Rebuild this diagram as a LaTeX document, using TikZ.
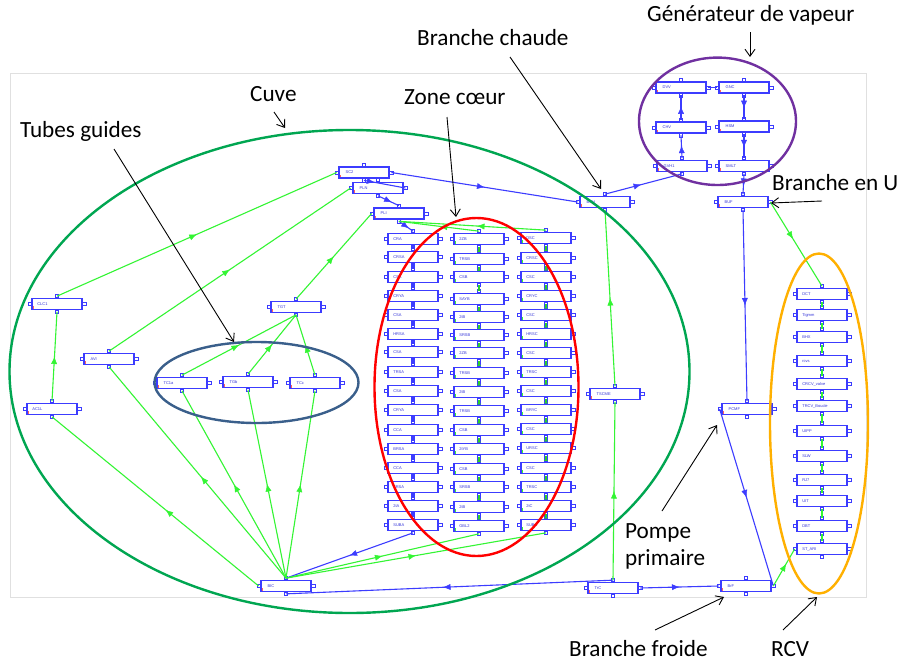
\documentclass[tikz,border=0pt]{standalone}
\usepackage{fontspec}
\setmainfont{Carlito}
\newfontfamily\tinyfont{Liberation Sans}
\usetikzlibrary{arrows.meta,decorations.markings,calc}
\definecolor{bl}{HTML}{3C3CFF}
\definecolor{gr}{HTML}{33F533}
\definecolor{cuve}{HTML}{00A651}
\definecolor{tubes}{HTML}{3A5F8B}
\definecolor{gvp}{HTML}{7030A0}
\definecolor{rcv}{HTML}{FFB000}
\definecolor{mk}{HTML}{FF6060}
\tikzset{
  blockbox/.style={draw=bl,line width=1.1pt,fill=white,minimum width=50pt,minimum height=11pt,inner sep=0pt,
    text width=42pt,align=left,text=bl!85!black,font=\tinyfont\fontsize{4}{4.5}\selectfont},
  portbox/.style={draw=bl,line width=0.8pt,fill=white,minimum size=3.2pt,inner sep=0pt,outer sep=0pt},
  flowmark/.style={postaction={decorate},decoration={markings,mark=at position #1 with {\arrow[line width=0.4pt]{Latex[length=7.5pt,width=6pt]}}}},
  flowb/.style={draw=bl,line width=1.1pt,flowmark=#1},
  flowg/.style={draw=gr,line width=1.1pt,flowmark=#1},
  chainb/.style={draw=bl,line width=1.1pt,postaction={decorate},decoration={markings,mark=at position .55 with {\arrow{Latex[length=3pt,width=4pt]}}}},
  chaing/.style={draw=gr!85!black,line width=1.1pt,postaction={decorate},decoration={markings,mark=at position .55 with {\arrow{Latex[length=3pt,width=4pt]}}}},
  callout/.style={draw=black,line width=0.9pt,-{Straight Barb[length=7pt,width=10pt,line width=0.9pt]}},
  lab/.style={font=\fontsize{23.2}{27}\selectfont,text=black,inner sep=0pt,align=left},
  zone/.style={draw=#1,line width=2.4pt},
  panel/.style={draw=black!12,line width=0.8pt,fill=white}
}
% [mark colour]{name}{x}{y}{text}
\newcommand{\blk}[5][white]{%
  \node[blockbox] (#2) at (#3,#4) {#5};
  \fill[#1] ([xshift=1.2pt,yshift=1.2pt]#2.south west) rectangle +(1.6,-2.6);
  \node[portbox,xshift=-1.8pt] (#2-l) at (#2.west) {};
  \node[portbox,xshift=1.8pt] (#2-r) at (#2.east) {};
  \node[portbox,yshift=1.8pt] (#2-t) at (#2.north) {};
  \node[portbox,yshift=-1.8pt] (#2-b) at (#2.south) {};
}
\begin{document}
\begin{tikzpicture}[x=1pt,y=-1pt]
\useasboundingbox (0,0) rectangle (898,664);
\fill[white] (0,0) rectangle (898,664);
\path[panel] (10,73) rectangle (866,597);

% blocks
\blk[mk]{sc}{364}{172.5}{\ \ SC2}
\blk[mk]{ps}{378}{188}{\ \ PLN}
\blk[mk]{pi}{399}{213.5}{\ \ PLI}
\blk[mk]{bc}{605}{202}{\ \ BCH}
\blk[mk]{ga}{681}{87.5}{\ \ DVV}
\blk[mk]{gb}{744}{87.5}{\ \ GNC}
\blk[mk]{gc}{681}{127.5}{\ \ CHV}
\blk[mk]{gd}{744}{126.5}{\ \ HSM}
\blk[mk]{ge}{682}{166}{\ \ GVH1}
\blk[mk]{gf}{744}{166}{\ \ SMLT}
\blk[mk]{bu}{743}{202}{\ \ BUF}
\blk[mk]{clc}{57}{304}{\ CLC1}
\blk[mk]{ac}{52}{409}{\ AC1L}
\blk[mk]{av}{109}{359}{\ \ AVI}
\blk[mk]{tp}{296}{307}{\ \ TGT}
\blk[mk]{ta}{182}{383}{\ \ TC1a}
\blk[mk]{tb}{248}{382}{\ \ TGb}
\blk[mk]{tc}{315}{383}{\ \ TCc}
\blk[mk]{bot}{286}{586}{\ \ BIC}
\blk[mk]{ts}{615}{394}{\ \ TSCME}
\blk[mk]{pc}{747}{409}{\ \ PCMF}
\blk[mk]{tf}{613}{588}{\ \ TrC}
\blk[mk]{bf}{746}{586}{\ \ BrF}

% core columns
\foreach \i/\y/\t in {1/239/CRA,2/257/CRSA,3/277/CSA,4/296/CRYA,5/315/CSA,6/334/HRSA,7/352/CSA,8/372/TRSA,9/391/CSA,10/410/CRYA,11/430/CCA,12/449/BRSA,13/468/CCA,14/487/TRSA,15/506/2tA,16/525/SUBA}
  {\blk{ca\i}{413}{\y}{\ \t}}
\foreach \i/\y/\t in {1/239/2ZB,2/259/TRSB,3/277/CSB,4/299/SAYB,5/317/2tB,6/335/SRSB,7/353/2ZB,8/373/TRSB,9/392/2tB,10/411/TRSB,11/430/CSB,12/449/2tYB,13/469/CSB,14/487/SRSB,15/507/2tB,16/526/GBL2}
  {\blk[gr]{cb\i}{479}{\y}{\ \t}}
\foreach \i/\y/\t in {1/238/DSC,2/258/CRSC,3/277/CSC,4/296/CRYC,5/315/CSC,6/334/HRSC,7/353/CSC,8/372/TRSC,9/391/CSC,10/410/BRYC,11/429/CSC,12/448/URSC,13/468/CSC,14/487/TRSC,15/506/2tC,16/525/SUBC}
  {\blk[gr]{cc\i}{546}{\y}{\ \t}}
% RCV column
\foreach \i/\y/\t in {1/294/DCT,2/315/Tigmm,3/337/BHX,4/361/rcvs,5/384/CRCV\_valve,6/406/TRCV\_Boucle,7/431/UIPP,8/456/SLW,9/480/RJ7,10/501/UIT,11/526/DBT,12/549/ST\_ARI}
  {\blk{r\i}{822}{\y}{\ \t}}

% chains
\foreach \i [evaluate=\i as \j using int(\i+1)] in {1,...,15} {
  \draw[chainb] (ca\i-b.center) -- (ca\j-t.center);
  \draw[chaing] (cb\j-t.center) -- (cb\i-b.center);
  \draw[chaing] (cc\j-t.center) -- (cc\i-b.center);
}
\foreach \i [evaluate=\i as \j using int(\i+1)] in {1,...,11}
  \draw[draw=gr,line width=1.2pt] (r\j-t.center) -- (r\i-b.center);

% blue connectors
\draw[flowb=.5] (sc-r.center) -- (bc-l.center);
\draw[flowb=.25] (sc-b.center) -- (ps-r.center);
\draw[flowb=.65] (ps-b.center) -- (pi-t.center);
\draw[flowb=.7] (pi-b.center) -- (ca1-t.center);
\draw[flowb=.47] (bc-t.center) -- (ge-b.center);
\draw[flowb=.55] (ge-t.center) -- (gc-b.center);
\draw[flowb=.55] (gc-t.center) -- (ga-b.center);
\draw[draw=bl,line width=1.1pt] (ga-r.center) -- (gb-l.center);
\draw[flowb=.55] (gb-b.center) -- (gd-t.center);
\draw[flowb=.55] (gd-b.center) -- (gf-t.center);
\draw[flowb=.6] (gf-b.center) -- (bu-t.center);
\draw[flowb=.5] (bu-b.center) -- (pc-t.center);
\draw[flowb=.5] (pc-l.center) -- (bf-r.center);
\draw[flowb=.5] (tf-r.center) -- (bf-l.center);
\draw[flowb=.52] (tf-t.center) -- (bot-b.center);
\draw[flowb=.5] (ca16-b.center) -- (bot-t.center);

% green connectors
\draw[flowg=.5] (bot-t.center) -- (cb16-b.center);
\draw[flowg=.5] (bot-t.center) -- (cc16-b.center);
\draw[flowg=.49] (cb1-t.center) -- (pi-b.center);
\draw[flowg=.47] (cc1-t.center) -- (pi-b.center);
\draw[flowg=.5] (tf-t.center) -- (ts-b.center);
\draw[flowg=.5] (ts-t.center) -- (bc-b.center);
\draw[flowg=.44] (bu-r.center) -- (r1-t.center);
\draw[flowg=.6] (bf-r.center) -- (r12-l.center);
\draw[flowg=.5] (tp-t.center) -- (pi-l.center);
\draw[flowg=.5] (av-t.center) -- (ps-l.center);
\draw[flowg=.5] (clc-t.center) -- (sc-l.center);
\draw[flowg=.5] (ac-t.center) -- (clc-b.center);
\draw[flowg=.45] (bot-l.center) -- (ac-b.center);
\draw[flowg=.48] (bot-t.center) -- (av-b.center);
\draw[flowg=.5] (bot-t.center) -- (ta-b.center);
\draw[flowg=.5] (bot-t.center) -- (tb-b.center);
\draw[flowg=.5] (bot-t.center) -- (tc-b.center);
\draw[flowg=.5] (ta-t.center) -- (tp-b.center);
\draw[flowg=.5] (tb-t.center) -- (tp-b.center);
\draw[flowg=.5] (tc-t.center) -- (tp-b.center);

% zones
\draw[zone=cuve] (349.5,371.5) ellipse [x radius=340,y radius=241.5];
\draw[zone=red] (476.5,387) ellipse [x radius=102,y radius=169];
\draw[zone=tubes] (256.5,382.5) ellipse [x radius=102,y radius=40.5];
\draw[zone=gvp] (717.5,121.3) ellipse [x radius=78.5,y radius=63.7];
\draw[zone=rcv] (819,423.5) ellipse [x radius=49,y radius=170];

% labels
\node[lab,anchor=west] (lgv) at (647,15) {Générateur de vapeur};
\node[lab,anchor=west] (lbc) at (417,38) {Branche chaude};
\node[lab,anchor=west] (lcu) at (250,94) {Cuve};
\node[lab,anchor=west] (lzc) at (404,97) {Zone cœur};
\node[lab,anchor=west] (ltg) at (20,131) {Tubes guides};
\node[lab,anchor=west] (lbu) at (772,183) {Branche en U};
\node[lab,anchor=west] (lpp) at (625,546) {Pompe\\primaire};
\node[lab,anchor=west] (lbf) at (569,649) {Branche froide};
\node[lab,anchor=west] (lrc) at (771,649) {RCV};

% callouts
\coordinate (s1) at (750,32); \coordinate (e1) at (750,57);
\coordinate (s2) at (510,57); \coordinate (e2) at (601,189);
\coordinate (s3) at (274,112); \coordinate (e3) at (285,128);
\coordinate (s4) at (447,117); \coordinate (e4) at (456,217);
\coordinate (s5) at (114,149); \coordinate (e5) at (234,342);
\coordinate (s6) at (822,201); \coordinate (e6) at (771,203);
\coordinate (s7) at (662,511); \coordinate (e7) at (717,425);
\coordinate (s8) at (655,630); \coordinate (e8) at (724,597);
\coordinate (s9) at (783,630); \coordinate (e9) at (817,597);
\foreach \k in {1,...,9} \draw[callout] (s\k) -- (e\k);
\end{tikzpicture}
\end{document}
